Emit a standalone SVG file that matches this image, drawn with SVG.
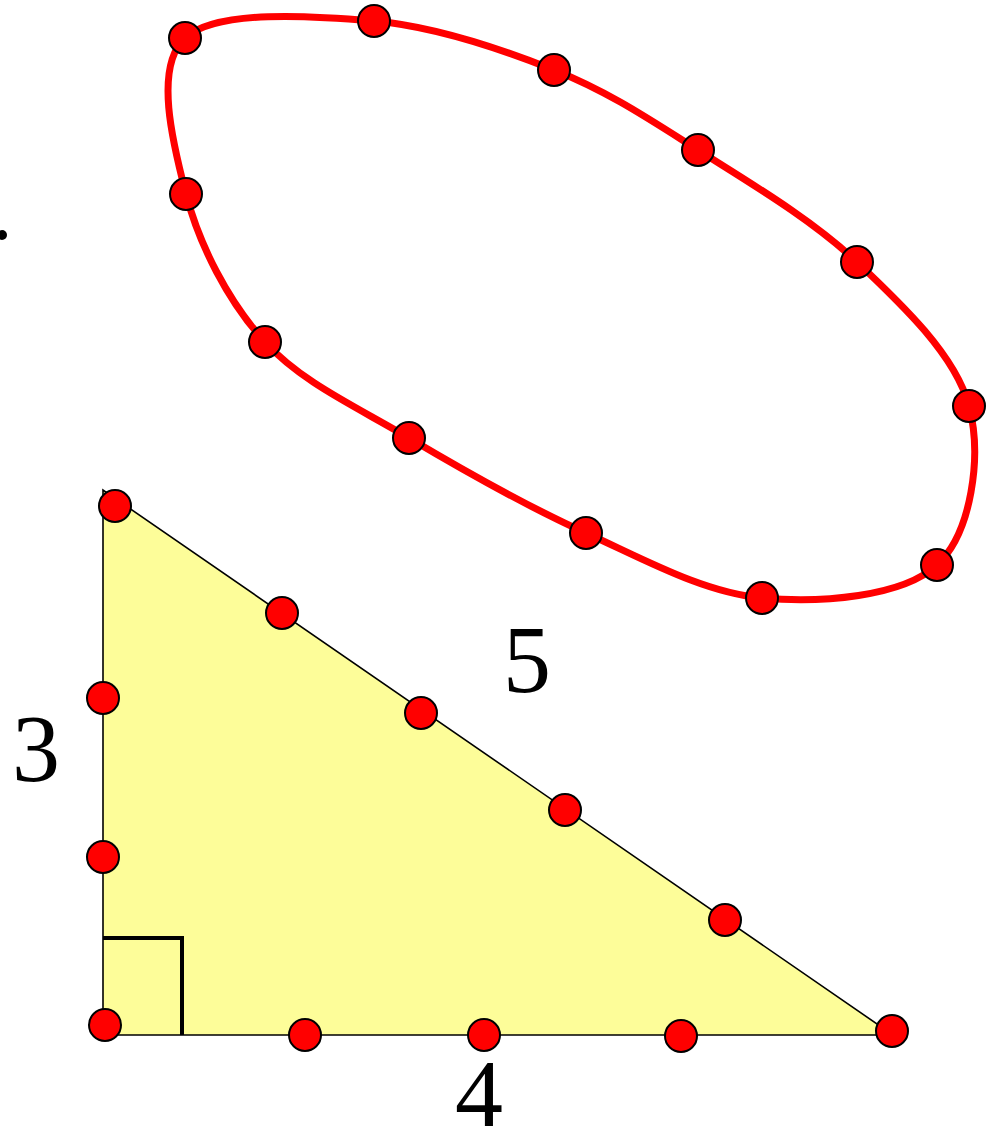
<svg xmlns="http://www.w3.org/2000/svg" width="994" height="1126" viewBox="0 0 994 1126">
<style>
.dot{fill:#ff0000;stroke:#000;stroke-width:2}
.lbl{font-size:96px;fill:#000;text-anchor:middle}
</style>
<rect width="994" height="1126" fill="#fff"/>
<circle cx="2" cy="235" r="5" fill="#000"/>
<g id="triangle">
<polygon points="103,490 103,1035 893,1035" fill="#fdfd99" stroke="#000" stroke-width="1.6"/>
<polyline points="103,938 182,938 182,1035" fill="none" stroke="#000" stroke-width="4"/>
</g>
<g id="curve">
<path d="M185,38 C216.3,9.2 312.5,15.7 374,21 C435.5,26.3 500,48.5 554,70 C608,91.5 647.5,118 698,150 C748.5,182 811.8,219.3 857,262 C902.2,304.7 955.7,355.5 969,406 C982.3,456.5 971.5,533 937,565 C902.5,597 820.5,603.3 762,598 C703.5,592.7 644.8,559.7 586,533 C527.2,506.3 462.5,469.8 409,438 C355.5,406.2 302.2,382.7 265,342 C227.8,301.3 199.3,244.7 186,194 C172.7,143.3 153.7,66.8 185,38 Z" fill="none" stroke="#ff0000" stroke-width="7"/>
</g>
<g id="curve-dots">
<circle class="dot" cx="185" cy="38" r="16"/>
<circle class="dot" cx="374" cy="21" r="16"/>
<circle class="dot" cx="554" cy="70" r="16"/>
<circle class="dot" cx="698" cy="150" r="16"/>
<circle class="dot" cx="857" cy="262" r="16"/>
<circle class="dot" cx="969" cy="406" r="16"/>
<circle class="dot" cx="937" cy="565" r="16"/>
<circle class="dot" cx="762" cy="598" r="16"/>
<circle class="dot" cx="586" cy="533" r="16"/>
<circle class="dot" cx="409" cy="438" r="16"/>
<circle class="dot" cx="265" cy="342" r="16"/>
<circle class="dot" cx="186" cy="194" r="16"/>
</g>
<g id="triangle-dots">
<circle class="dot" cx="115" cy="506" r="16"/>
<circle class="dot" cx="282" cy="613" r="16"/>
<circle class="dot" cx="421" cy="713" r="16"/>
<circle class="dot" cx="565" cy="810" r="16"/>
<circle class="dot" cx="725" cy="920" r="16"/>
<circle class="dot" cx="892" cy="1031" r="16"/>
<circle class="dot" cx="681" cy="1036" r="16"/>
<circle class="dot" cx="484" cy="1035" r="16"/>
<circle class="dot" cx="305" cy="1035" r="16"/>
<circle class="dot" cx="105" cy="1025" r="16"/>
<circle class="dot" cx="103" cy="857" r="16"/>
<circle class="dot" cx="103" cy="698" r="16"/>
</g>
<g id="labels" font-family="Liberation Serif, Times New Roman, serif">
<text class="lbl" x="527" y="692">5</text>
<text class="lbl" x="36" y="781">3</text>
<text class="lbl" x="479" y="1126">4</text>
</g>
</svg>
